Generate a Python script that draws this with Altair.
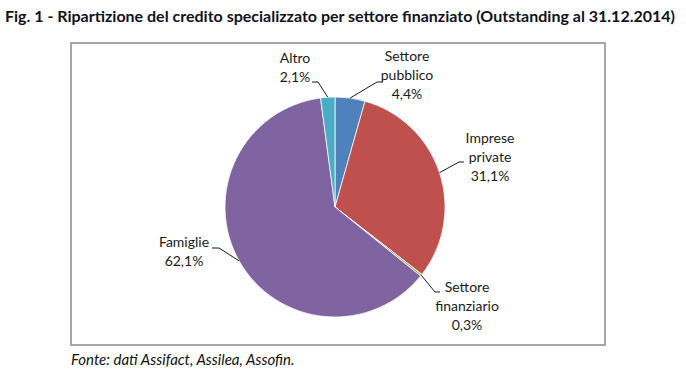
import math
import altair as alt
import pandas as pd

# ---- data ----
sectors = ["Settore pubblico", "Imprese private", "Settore finanziario", "Famiglie", "Altro"]
shares = [4.4, 31.1, 0.3, 62.1, 2.1]
pct_labels = ["4,4%", "31,1%", "0,3%", "62,1%", "2,1%"]
name_labels = ["Settore\npubblico", "Imprese\nprivate", "Settore\nfinanziario", "Famiglie", "Altro"]
colors = ["#4F81BD", "#C0504D", "#9BBB59", "#8064A2", "#4BACC6"]

title_text = "Fig. 1 - Ripartizione del credito specializzato per settore finanziato (Outstanding al 31.12.2014)"
source_text = "Fonte: dati Assifact, Assilea, Assofin."

# ---- layout (pixels) ----
W, H = 686, 377
CX, CY, R = 335, 207, 110
# (center x, first-line center y)
label_anchors = {
    "Settore pubblico": (407, 57),
    "Imprese private": (490, 139),
    "Settore finanziario": (467, 288),
    "Famiglie": (184, 243),
    "Altro": (295, 59),
}
leader_bends = {
    "Settore pubblico": [(377, 82), (383, 82)],
    "Imprese private": [(459, 162), (464, 162)],
    "Settore finanziario": [(435, 292), (440, 292)],
    "Famiglie": [(219, 248), (212, 248)],
    "Altro": [(318, 82), (312, 82)],
}

pie_df = pd.DataFrame({"sector": sectors, "share": shares, "idx": list(range(len(sectors)))})

total = sum(shares)
cum = 0.0
label_rows, line_rows = [], []
for s, v, p, n in zip(sectors, shares, pct_labels, name_labels):
    mid = (cum + v / 2) / total * 2 * math.pi
    cum += v
    sx = CX + R * math.sin(mid)
    sy = CY - R * math.cos(mid)
    pts = [(sx, sy)] + leader_bends[s]
    for k, (px, py) in enumerate(pts):
        line_rows.append({"sector": s, "step": k, "px": px, "py": py})
    lx, ly = label_anchors[s]
    label_rows.append({"sector": s, "text": n + "\n" + p, "lx": lx, "ly": ly})

lab_df = pd.DataFrame(label_rows)
line_df = pd.DataFrame(line_rows)

xs = alt.Scale(domain=[0, W], range=[0, W])
ys = alt.Scale(domain=[0, H], range=[0, H])
FONT = "Lato"

frame = alt.Chart(pd.DataFrame({"a": [0]})).mark_rect(
    fill="white", stroke="#A6A6A6", strokeWidth=2
).encode(x=alt.value(71), x2=alt.value(605), y=alt.value(43), y2=alt.value(345))

pie = alt.Chart(pie_df).mark_arc(radius=R, stroke="white", strokeWidth=0.75).encode(
    theta=alt.Theta("share:Q", stack=True),
    order=alt.Order("idx:Q"),
    color=alt.Color("sector:N", scale=alt.Scale(domain=sectors, range=colors), legend=None),
    x=alt.value(CX),
    y=alt.value(CY),
)

leaders = alt.Chart(line_df).mark_line(color="#1a1a1a", strokeWidth=1).encode(
    x=alt.X("px:Q", scale=xs, axis=None),
    y=alt.Y("py:Q", scale=ys, axis=None),
    detail="sector:N",
    order="step:Q",
)

labels = alt.Chart(lab_df).mark_text(
    font=FONT, fontSize=14, color="#1a1a1a", align="center", baseline="middle",
    lineBreak="\n", lineHeight=19
).encode(
    x=alt.X("lx:Q", scale=xs, axis=None),
    y=alt.Y("ly:Q", scale=ys, axis=None),
    text="text:N",
)

title = alt.Chart(pd.DataFrame({"t": [title_text]})).mark_text(
    font=FONT, fontSize=16, fontWeight="bold", color="#111122", align="left", baseline="middle"
).encode(x=alt.value(5), y=alt.value(17), text="t:N")

source = alt.Chart(pd.DataFrame({"t": [source_text]})).mark_text(
    font=FONT, fontSize=15, fontStyle="italic", color="#111111", align="left", baseline="middle"
).encode(x=alt.value(71), y=alt.value(360), text="t:N")

chart = alt.layer(frame, pie, leaders, labels, title, source).properties(
    width=W, height=H, autosize="none", padding=0, background="white"
).configure_view(stroke=None)

chart.save("out.html", embed_options={"renderer": "svg", "actions": False})
